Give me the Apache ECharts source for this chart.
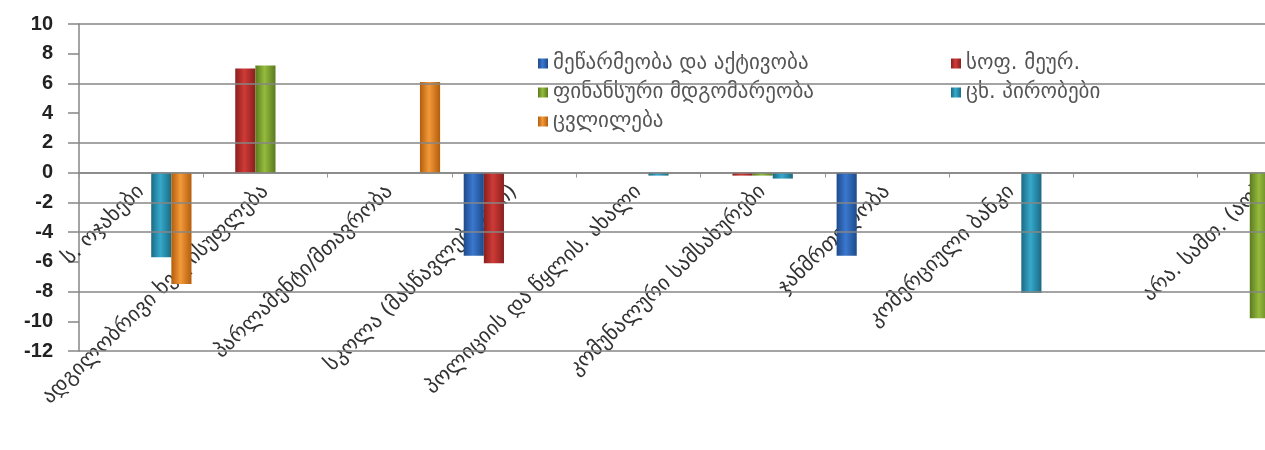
<!DOCTYPE html>
<html>
<head>
<meta charset="utf-8">
<script src="https://cdn.jsdelivr.net/npm/echarts@6/dist/echarts.min.js"></script>
<style>html,body{margin:0;padding:0;background:#fff}#c{width:1265px;height:450px}</style>
</head>
<body>
<div id="c"></div>
<script>
const categories = ['ს. ოჯახები','ადგილობრივი ხელისუფლება','პარლამენტი/მთავრობა','სკოლა (მასწავლებლები)','პოლიციის და წყლის. ახალი','კომუნალური სამსახურები','ჯანმრთელობა','კომერციული ბანკი','','არა. სამთ. (აო)'];
const seriesNames = ['მეწარმეობა და აქტივობა','სოფ. მეურ.','ფინანსური მდგომარეობა','ცხ. პირობები','ცვლილება'];
const blueVals   = [null, null, null, -5.6, null, null, -5.6, null, null, null];
const redVals    = [null, 7.0, null, -6.1, null, -0.2, null, null, null, null];
const greenVals  = [null, 7.2, null, null, null, -0.2, null, null, null, -9.8];
const cyanVals   = [-5.7, null, null, null, -0.2, -0.4, null, -8.1, null, null];
const orangeVals = [-7.5, null, 6.1, null, null, null, null, null, null, null];
const gridValues = [10, 6, 2, 0, -2, -4, -8, -12];

const Y_MIN = -12, Y_MAX = 10, GRID_TOP = 24, GRID_H = 327;
const zeroOffset = GRID_H * (0 - Y_MIN) / (Y_MAX - Y_MIN);

const palette = [
  ['#1d4a8a','#3a78cf','#1d4a8a'],
  ['#8a1f1f','#cf3b36','#8a1f1f'],
  ['#5b7a1e','#95bb3e','#5b7a1e'],
  ['#1b6a82','#36a9cc','#1b6a82'],
  ['#b35d0c','#f29a3a','#b35d0c']
];
function grad(c){
  return new echarts.graphic.LinearGradient(0,0,1,0,[
    {offset:0,color:c[0]},{offset:0.45,color:c[1]},{offset:1,color:c[2]}]);
}
const allVals = [blueVals, redVals, greenVals, cyanVals, orangeVals];
const series = allVals.map((v,i)=>({
  name: seriesNames[i], type:'bar', data:v, z:3,
  barGap:'0%', barCategoryGap:'19%',
  itemStyle:{color:grad(palette[i])}
}));
series.push({
  name:'grid', type:'line', data:[], z:1, silent:true,
  markLine:{silent:true, symbol:'none', label:{show:false},
    lineStyle:{color:'#868686', width:1.5, type:'solid'},
    data: gridValues.map(v=>({yAxis:v}))}
});

const chart = echarts.init(document.getElementById('c'), null, {renderer:'canvas'});
const legendText = {fontFamily:'DejaVu Sans', fontSize:21, color:'#555'};
chart.setOption({
  animation:false,
  backgroundColor:'#fff',
  grid:{left:79, top:GRID_TOP, width:1243, height:GRID_H, containLabel:false, outerBoundsMode:'none'},
  legend:[
    {orient:'vertical', left:533, top:48, itemWidth:10, itemHeight:10, itemGap:8, icon:'rect',
     textStyle:legendText, data:[seriesNames[0], seriesNames[2], seriesNames[4]]},
    {orient:'vertical', left:946, top:48, itemWidth:10, itemHeight:10, itemGap:8, icon:'rect',
     textStyle:legendText, data:[seriesNames[1], seriesNames[3]]}
  ],
  xAxis:{
    type:'category', data:categories, offset:-zeroOffset,
    axisLine:{show:true, onZero:false, lineStyle:{color:'#868686', width:1.5}},
    axisTick:{show:true, length:5, lineStyle:{color:'#999'}},
    axisLabel:{interval:0, rotate:44, margin:16, fontFamily:'DejaVu Sans', fontSize:21, color:'#333'}
  },
  yAxis:{
    type:'value', min:Y_MIN, max:Y_MAX, interval:2,
    axisLine:{show:true, lineStyle:{color:'#868686', width:1.5}},
    axisTick:{show:true, length:11, lineStyle:{color:'#868686', width:1.5}},
    splitLine:{show:false},
    axisLabel:{margin:26, fontFamily:'Liberation Sans', fontWeight:'bold', fontSize:20, color:'#222'}
  },
  series:series
});
</script>
</body>
</html>
